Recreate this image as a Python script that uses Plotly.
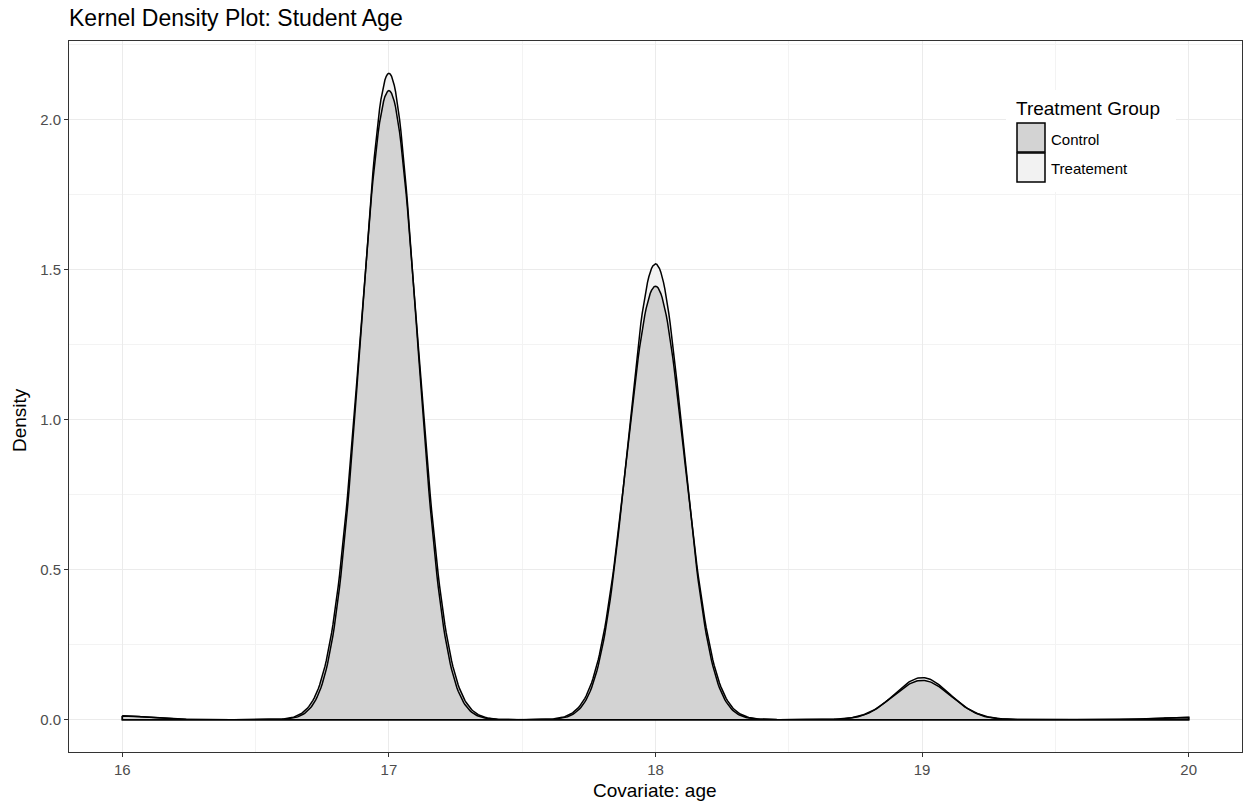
import numpy as np
import plotly.graph_objects as go

# Student ages observed in each treatment group
ages = [16, 17, 18, 19, 20]
control_counts = [5, 849, 585, 53, 3]
treatment_counts = [5, 845, 596, 55, 3]

# Gaussian kernel bandwidths per group
control_bw = 0.108
treatment_bw = 0.104

groups = ["Control", "Treatement"]
fill_colors = ["#d3d3d3", "#f2f2f2"]

grid = np.linspace(min(ages), max(ages), 801)


def kde(values, counts, bw):
    values = np.asarray(values, float)
    w = np.asarray(counts, float)
    w = w / w.sum()
    z = (grid[:, None] - values[None, :]) / bw
    return (np.exp(-0.5 * z ** 2) / (bw * np.sqrt(2 * np.pi)) * w).sum(axis=1)


dens_control = kde(ages, control_counts, control_bw)
dens_treat = kde(ages, treatment_counts, treatment_bw)

fig = go.Figure()

# closed polygons: curve plus baseline
poly_x = np.concatenate([grid, grid[::-1], grid[:1]])


def closed(d):
    return np.concatenate([d, np.zeros_like(d), d[:1]])


# Treatment first (light), then Control on top
fig.add_trace(go.Scatter(x=poly_x, y=closed(dens_treat), mode="none", fill="toself",
                         fillcolor=fill_colors[1], showlegend=False, hoverinfo="skip"))
fig.add_trace(go.Scatter(x=poly_x, y=closed(dens_control), mode="none", fill="toself",
                         fillcolor=fill_colors[0], showlegend=False, hoverinfo="skip"))
for d in (dens_control, dens_treat):
    fig.add_trace(go.Scatter(x=poly_x, y=closed(d), mode="lines",
                             line=dict(color="black", width=1.5),
                             showlegend=False, hoverinfo="skip"))

ymax = max(dens_control.max(), dens_treat.max())
pad_y = 0.05 * ymax

W, H = 1245, 806
ml, mr, mt, mb = 69, 3, 41, 54
pw, ph = W - ml - mr, H - mt - mb


def px(x):
    return (x - ml) / pw


def py(y):
    return 1 - (y - mt) / ph


shapes = []
annotations = []
# legend background and keys
shapes.append(dict(type="rect", xref="paper", yref="paper",
                   x0=px(1006), x1=px(1176), y0=py(192), y1=py(90),
                   fillcolor="white", line=dict(width=0), layer="above"))
key_tops = [123, 153]
for top, col, name in zip(key_tops, fill_colors, groups):
    shapes.append(dict(type="rect", xref="paper", yref="paper",
                       x0=px(1017), x1=px(1045), y0=py(top + 29), y1=py(top),
                       fillcolor=col, line=dict(color="black", width=1.5), layer="above"))
    annotations.append(dict(xref="paper", yref="paper", x=px(1049), y=py(top + 16),
                            text=name, showarrow=False, xanchor="left", yanchor="middle",
                            font=dict(size=15, color="black")))
annotations.append(dict(xref="paper", yref="paper", x=px(1014), y=py(108),
                        text="Treatment Group", showarrow=False, xanchor="left",
                        yanchor="middle", font=dict(size=19, color="black")))

# axis titles
annotations.append(dict(xref="paper", yref="paper", x=px(655), y=py(790),
                        text="Covariate: age", showarrow=False, xanchor="center",
                        yanchor="middle", font=dict(size=19, color="black")))
annotations.append(dict(xref="paper", yref="paper", x=px(19), y=py(420),
                        text="Density", showarrow=False, xanchor="center",
                        yanchor="middle", textangle=-90,
                        font=dict(size=19, color="black")))

fig.update_layout(
    width=W, height=H,
    margin=dict(l=ml, r=mr, t=mt, b=mb),
    paper_bgcolor="white", plot_bgcolor="white",
    font=dict(family="Liberation Sans, Arial, sans-serif", color="black"),
    title=dict(text="Kernel Density Plot: Student Age", xref="container", x=69 / W,
               xanchor="left", yref="container", y=1 - 18 / H, yanchor="middle",
               font=dict(size=23, color="black")),
    showlegend=False,
    shapes=shapes,
    annotations=annotations,
)

axis_common = dict(
    showline=True, mirror=True, linecolor="#333333", linewidth=1,
    ticks="outside", ticklen=4, tickcolor="#333333", tickwidth=1,
    showgrid=True, gridcolor="#ebebeb", gridwidth=1, zeroline=False,
    tickfont=dict(size=15, color="#4d4d4d"),
    minor=dict(showgrid=True, gridcolor="#f3f3f3", gridwidth=0.6, ticks=""),
)

fig.update_xaxes(range=[15.8, 20.2], tick0=16, dtick=1,
                 minor_dtick=0.5, minor_tick0=16, **axis_common)
fig.update_yaxes(range=[-pad_y, ymax + pad_y], tick0=0, dtick=0.5,
                 minor_dtick=0.25, minor_tick0=0, tickformat=".1f", **axis_common)

fig.write_html("out.html")
